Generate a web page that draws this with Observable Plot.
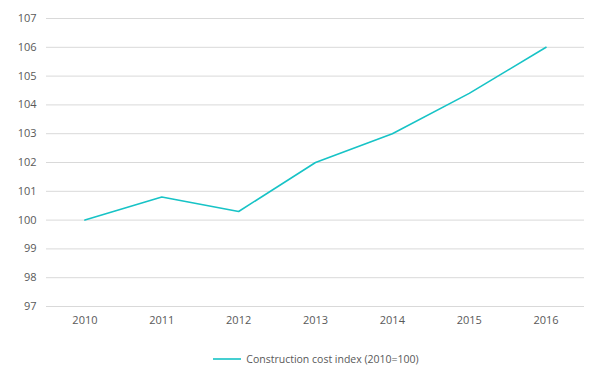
<!DOCTYPE html>
<html>
<head>
<meta charset="utf-8">
<script src="https://cdn.jsdelivr.net/npm/d3@7"></script>
<script src="https://cdn.jsdelivr.net/npm/@observablehq/plot@0.6"></script>
<style>
  html, body { margin: 0; padding: 0; background: #fff; }
  body { width: 608px; height: 391px; overflow: hidden; font-family: "Open Sans", sans-serif; }
  #legend { display: flex; justify-content: center; align-items: center; margin-top: 12px; font-size: 10.5px; color: #595959; padding-left: 24px; }
  #legend svg { margin-right: 3px; }
</style>
</head>
<body>
<div id="chart"></div>
<div id="legend"></div>
<script>
const years = [2010, 2011, 2012, 2013, 2014, 2015, 2016];
const costIndex = [100, 100.8, 100.3, 102, 103, 104.4, 106];
const yTicks = [97, 98, 99, 100, 101, 102, 103, 104, 105, 106, 107];
const seriesName = "Construction cost index (2010=100)";
const lineColor = "#17C3C6";

const data = years.map((y, i) => ({year: y, value: costIndex[i]}));

const chart = Plot.plot({
  width: 608,
  height: 340,
  marginLeft: 46,
  marginRight: 24,
  marginTop: 18,
  marginBottom: 34,
  style: {fontFamily: "Open Sans, sans-serif", fontSize: "11px", color: "#595959", background: "#fff"},
  x: {domain: [2009.5, 2016.5], ticks: years, tickFormat: d => String(d), tickSize: 0, tickPadding: 10, label: null},
  y: {domain: [97, 107], ticks: yTicks, tickSize: 0, tickPadding: 10, label: null},
  marks: [
    Plot.ruleY(yTicks, {stroke: "#d9d9d9", strokeWidth: 1}),
    Plot.line(data, {x: "year", y: "value", stroke: lineColor, strokeWidth: 1.6}),
    Plot.axisX({ticks: years, tickFormat: d => String(d), tickSize: 0, tickPadding: 10, label: null, fill: "#595959"}),
    Plot.axisY({ticks: yTicks, tickSize: 0, tickPadding: 10, label: null, fill: "#595959"})
  ]
});
document.getElementById("chart").appendChild(chart);

const legend = document.getElementById("legend");
legend.innerHTML = `<svg width="30" height="10"><line x1="0" y1="5" x2="28" y2="5" stroke="${lineColor}" stroke-width="1.6"/></svg><span>${seriesName}</span>`;
</script>
</body>
</html>
